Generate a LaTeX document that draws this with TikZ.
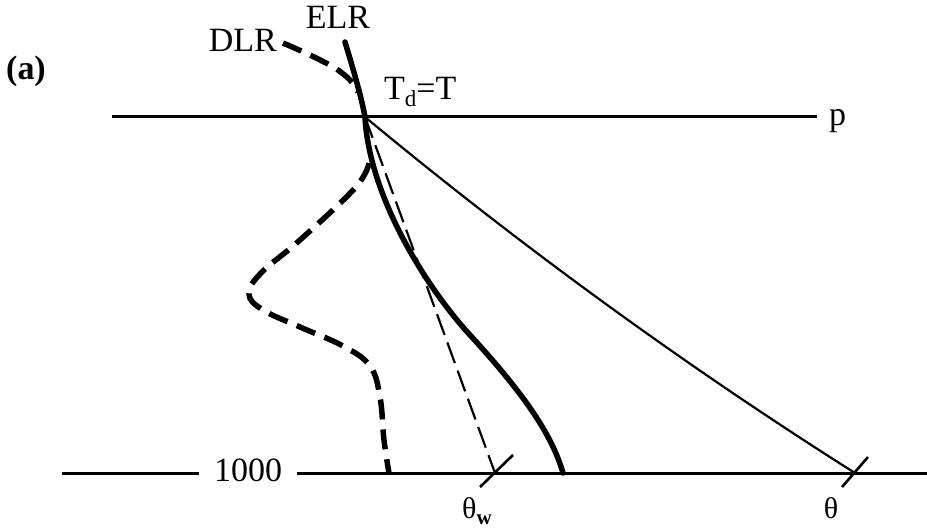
\documentclass[tikz,border=0pt]{standalone}
\usepackage{fontspec}
\setmainfont{Liberation Serif}
\usetikzlibrary{positioning}
\begin{document}
\begin{tikzpicture}[x=1pt, y=-1pt,
          lbl/.style={font=\fontsize{34}{36}\selectfont, inner sep=0pt},
          isobar/.style={line width=3pt},
          elr/.style={line width=5.5pt, line cap=round},
          dlr/.style={line width=5.5pt, dash pattern=on 20pt off 10pt},
          dryad/.style={line width=2.2pt},
          moistad/.style={line width=2.2pt, dash pattern=on 22pt off 8pt},
          tickmark/.style={line width=2.6pt}
        ]
        \useasboundingbox (0,0) rectangle (927,531);
        % Isobars
        \coordinate (pl) at (112,116);
        \coordinate (pr) at (817,116);
        \draw[isobar] (pl)--(pr);
        \node[lbl, anchor=base west] (plab) at (829,125) {p};
        \node[lbl, inner xsep=15pt] (thou) at (248,470) {1000};
        \draw[isobar] (62,473)--(thou.west |- 0,473);
        \draw[isobar] (thou.east |- 0,473)--(927,473);
        % Saturation point
        \coordinate (sat) at (365,117);
        \node[lbl, anchor=base west] (tdt) at (384,99)
              {T\raisebox{-7pt}{\fontsize{23}{23}\selectfont d}=T};
        % Environmental lapse rate
        \coordinate (elrtop) at (345,42);
        \coordinate (elrmid) at (470,335);
        \coordinate (elrbot) at (563,473);
        \draw[elr] (elrtop) .. controls (355,75) and (362,100) .. (sat)
              .. controls (369,195) and (425,286) .. (elrmid)
              .. controls (525,395) and (552,435) .. (elrbot);
        \node[lbl, anchor=base] (elrlab) at (338,28) {ELR};
        % Dew-point lapse rate
        \draw[dlr] plot[smooth] coordinates {(283,43) (310,55) (335,68)
              (350,80) (358,92)};
        \draw[dlr] plot[smooth, tension=0.65] coordinates {(369,163)
              (355,188) (300,240) (261,273) (249,294) (263,310) (300,327)
              (343,346) (370,366) (380,397) (384,440) (389,473)};
        \node[lbl, anchor=base east] (dlrlab) at (277,51) {DLR};
        % Adiabats
        \coordinate (thw) at (495,473);
        \coordinate (th) at (855,473);
        \draw[moistad] (sat)--(thw);
        \draw[dryad] (sat) .. controls (528,252) and (692,370) .. (th);
        \draw[tickmark] (thw) ++(-15,14) -- ++(33,-32);
        \draw[tickmark] (th) ++(-13,14) -- ++(26,-30);
        \node[lbl, anchor=base west, font=\fontsize{30}{32}\selectfont]
              (thwlab) at (462,518)
              {θ\raisebox{-6pt}{\fontsize{21}{21}\selectfont\bfseries w}};
        \node[lbl, anchor=base, font=\fontsize{30}{32}\selectfont]
              (thlab) at (831,518) {θ};
        % Panel label
        \node[lbl, font=\fontsize{34}{36}\selectfont\bfseries] (panel)
              at (26,71) {(a)};
      \end{tikzpicture}
\end{document}
